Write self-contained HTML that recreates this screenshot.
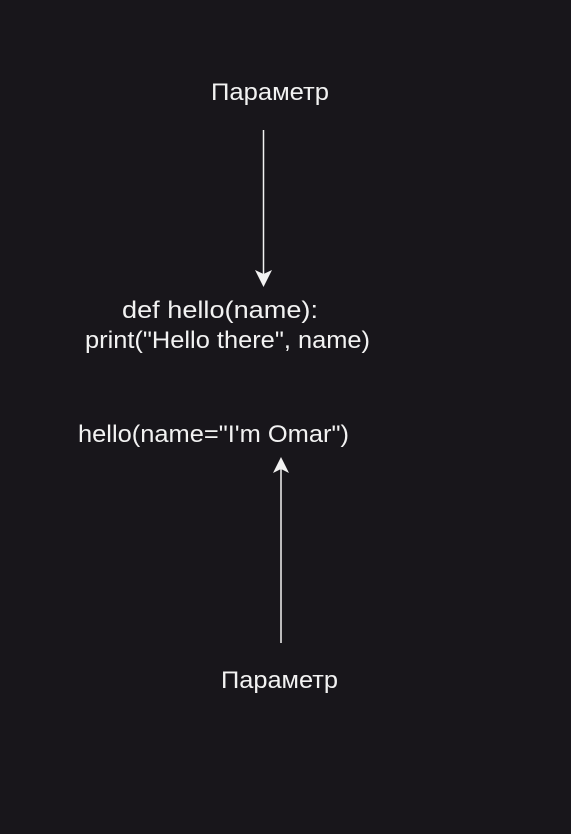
<!DOCTYPE html>
<html><head><meta charset="utf-8"><style>
html,body{margin:0;padding:0;background:#18161b;}
svg{display:block}
text{font-family:"Liberation Sans",sans-serif;font-size:24px;fill:#f2f2f2;}
</style></head><body>
<svg width="571" height="834" viewBox="0 0 571 834" xmlns="http://www.w3.org/2000/svg">
<rect width="571" height="834" fill="#18161b"/>
<text x="211" y="100" textLength="118" lengthAdjust="spacingAndGlyphs">Параметр</text>
<line x1="263.5" y1="130" x2="263.5" y2="276" stroke="#f2f2f2" stroke-width="1.5"/>
<path d="M263.5 287 L255 270 L263.5 274 L272 270 Z" fill="#f2f2f2"/>
<text x="122" y="318" textLength="196" lengthAdjust="spacingAndGlyphs">def hello(name):</text>
<text x="85" y="348" textLength="285" lengthAdjust="spacingAndGlyphs">print("Hello there", name)</text>
<text x="78" y="442" textLength="271" lengthAdjust="spacingAndGlyphs">hello(name="I'm Omar")</text>
<line x1="281" y1="468" x2="281" y2="643" stroke="#f2f2f2" stroke-width="1.5"/>
<path d="M281 457 L273 473 L281 469 L289 473 Z" fill="#f2f2f2"/>
<text x="221" y="688" textLength="117" lengthAdjust="spacingAndGlyphs">Параметр</text>
</svg>
</body></html>
